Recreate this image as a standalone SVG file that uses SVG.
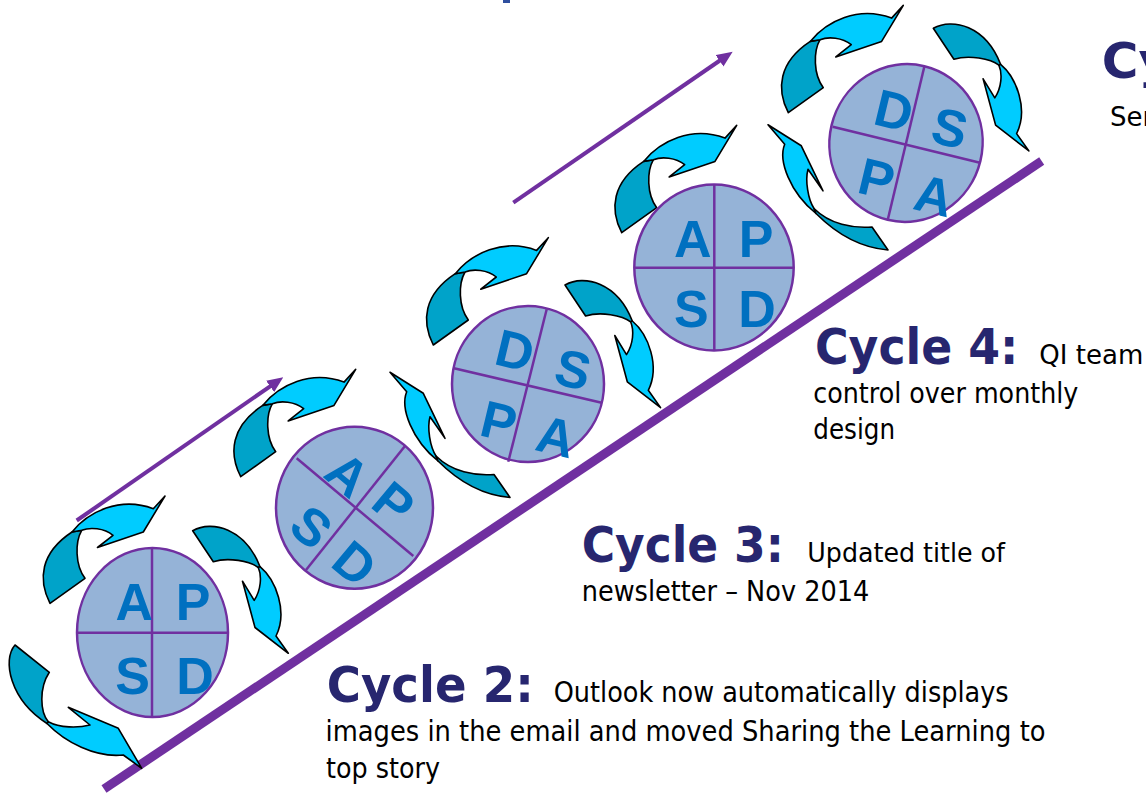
<svg xmlns="http://www.w3.org/2000/svg" width="1146" height="796" viewBox="0 0 1146 796">
<style>
.bg{fill:#ffffff}
.rail{stroke:#7030A0;stroke-width:9;stroke-linecap:butt}
.trend{stroke:#7030A0;stroke-width:4;fill:none}
.ca-l{fill:#00CCFF;stroke:#000;stroke-width:1.6;stroke-linejoin:round}
.ca-d{fill:#00A3C9;stroke:#000;stroke-width:1.6;stroke-linejoin:round}
.disc{fill:#95B3D7;stroke:#7030A0;stroke-width:2.5}
.div{stroke:#7030A0;stroke-width:2.5}
.lt{fill:#0070C0;font-family:"Liberation Sans",Arial,sans-serif;font-weight:bold;font-size:52px;text-anchor:middle}
.ttl{fill:#27266F;font-family:"DejaVu Sans","Liberation Sans",sans-serif;font-weight:bold;font-size:50px}
.txt{fill:#000;font-family:"DejaVu Sans","Liberation Sans",sans-serif}
</style>
<defs>
<marker id="head" markerUnits="userSpaceOnUse" markerWidth="16" markerHeight="14" refX="4" refY="7" orient="auto">
<path d="M0,0 L16,7 L0,14 Z" fill="#7030A0"/>
</marker>
<g id="arcUL">
<path class="ca-d" d="M50,603.3 C38,580 40,553 72,532 L81.7,530.3 C75,542 75,565 85,578.3 Z"/>
<path class="ca-l" d="M72,532 C88,512 120,496 153.3,508.7 L165,496 L143.3,532 L97.5,547.5 L113,535.3 C104,528 90,527 81.7,530.3 Z"/>
</g>
<g id="arcR">
<path class="ca-d" d="M192.7,530.7 C212,520 245,528 260,566.7 L258.3,567.5 C250,561 228,557 213.3,561.7 Z"/>
<path class="ca-l" d="M260,566.7 C276,580 288,612 276,636 L288.3,653.3 L255,627.5 L242.5,581.2 L254.2,600.3 C261,590 262,576 258.3,567.5 Z"/>
</g>
<g id="arcUp">
<path class="ca-l" d="M390,372.3 L406.7,391.7 C400,408 412,440 438,461 L436,456 C430,447 427,428 430,416.7 L445,438.3 L423.3,393.3 Z"/>
<path class="ca-d" d="M438,461 C455,478 480,495 510,497.5 L494,474.5 C475,476 452,472 436,456 Z"/>
</g>
</defs>
<rect class="bg" x="0" y="0" width="1146" height="796"/>
<rect x="503" y="0" width="7" height="3" fill="#2F4F9F"/>

<g id="connectors">
<line class="rail" x1="104" y1="789" x2="1041.7" y2="161"/>
<line class="trend" x1="76.7" y1="520.5" x2="273.4" y2="384.1" marker-end="url(#head)"/>
<line class="trend" x1="513.3" y1="202.7" x2="722.8" y2="58.5" marker-end="url(#head)"/>
<use href="#arcUL"/>
<use href="#arcR"/>
<g id="arcLL">
<path class="ca-d" d="M15,645 C2,660 10,700 47,723.5 L48.3,721.7 C40,712 39,688 49.3,672.3 Z"/>
<path class="ca-l" d="M47,723.5 C65,742 95,758 123.3,755 L141.7,768.3 L118.3,728.3 L68.3,707.3 L90,725 C78,728 60,728 48.3,721.7 Z"/>
</g>
<use href="#arcUL" transform="translate(190.7,-126.6)"/>
<use href="#arcUp"/>
<use href="#arcUL" transform="translate(383.3,-258.3)"/>
<use href="#arcR" transform="translate(372.3,-245.7)"/>
<use href="#arcUL" transform="translate(571.7,-370.6)"/>
<use href="#arcUp" transform="translate(378,-247.5)"/>
<use href="#arcUL" transform="translate(738.3,-490.6)"/>
<use href="#arcR" transform="translate(740.6,-502.4)"/>
</g>

<g id="wheel1">
<ellipse class="disc" cx="152.5" cy="632.5" rx="75.5" ry="84.5"/>
<line class="div" x1="77" y1="632.7" x2="228" y2="632.7"/>
<line class="div" x1="152" y1="548" x2="152" y2="717"/>
<text class="lt" x="134.2" y="620">A</text>
<text class="lt" x="193" y="620">P</text>
<text class="lt" x="132.5" y="694">S</text>
<text class="lt" x="195" y="694">D</text>
</g>

<g id="wheel2">
<ellipse class="disc" cx="354.5" cy="507.7" rx="78.5" ry="81"/>
<line class="div" x1="296.7" y1="458.3" x2="413.3" y2="556"/>
<line class="div" x1="405" y1="446" x2="306" y2="570"/>
<text class="lt" transform="translate(348,474) rotate(40)" y="18.6">A</text>
<text class="lt" transform="translate(394,503) rotate(40)" y="18.6">P</text>
<text class="lt" transform="translate(355,563) rotate(40)" y="18.6">D</text>
<text class="lt" transform="translate(311.7,526.7) rotate(40)" y="18.6">S</text>
</g>

<g id="wheel3">
<ellipse class="disc" cx="528" cy="384" rx="76" ry="78"/>
<line class="div" x1="546.7" y1="309.3" x2="508.3" y2="461.7"/>
<line class="div" x1="454" y1="368.3" x2="601.7" y2="402.7"/>
<text class="lt" transform="translate(515,350) rotate(13.5)" y="18.6">D</text>
<text class="lt" transform="translate(573.3,369) rotate(13.5)" y="18.6">S</text>
<text class="lt" transform="translate(499,421) rotate(13.5)" y="18.6">P</text>
<text class="lt" transform="translate(556,436) rotate(13.5)" y="18.6">A</text>
</g>

<g id="wheel4">
<ellipse class="disc" cx="714" cy="267.5" rx="79.7" ry="83"/>
<line class="div" x1="634.3" y1="267.7" x2="793.7" y2="267.7"/>
<line class="div" x1="714.3" y1="184.5" x2="714.3" y2="350.5"/>
<text class="lt" x="692.8" y="257.3">A</text>
<text class="lt" x="756" y="257.3">P</text>
<text class="lt" x="691.3" y="327">S</text>
<text class="lt" x="757" y="327">D</text>
</g>

<g id="wheel5">
<ellipse class="disc" cx="906" cy="143" rx="76.5" ry="79" transform="rotate(13.5 906 143)"/>
<line class="div" x1="924.3" y1="66.7" x2="887.7" y2="220"/>
<line class="div" x1="832.7" y1="126.7" x2="980" y2="162.7"/>
<text class="lt" transform="translate(894,110) rotate(13.5)" y="18.6">D</text>
<text class="lt" transform="translate(950,127.5) rotate(13.5)" y="18.6">S</text>
<text class="lt" transform="translate(876.7,178.3) rotate(13.5)" y="18.6">P</text>
<text class="lt" transform="translate(934,195) rotate(13.5)" y="18.6">A</text>
</g>

<g id="cycle2">
<text class="ttl" x="326.8" y="702" textLength="207" lengthAdjust="spacingAndGlyphs">Cycle 2:</text>
<text class="txt" x="553.7" y="702" font-size="28" textLength="455" lengthAdjust="spacingAndGlyphs">Outlook now automatically displays</text>
<text class="txt" x="325.5" y="741" font-size="28" textLength="720" lengthAdjust="spacingAndGlyphs">images in the email and moved Sharing the Learning to</text>
<text class="txt" x="326" y="778" font-size="28" textLength="114" lengthAdjust="spacingAndGlyphs">top story</text>
</g>

<g id="cycle3">
<text class="ttl" x="581.7" y="561.7" textLength="202.3" lengthAdjust="spacingAndGlyphs">Cycle 3:</text>
<text class="txt" x="807.3" y="561.7" font-size="26" textLength="197.7" lengthAdjust="spacingAndGlyphs">Updated title of</text>
<text class="txt" x="581.7" y="600.5" font-size="29" textLength="287.6" lengthAdjust="spacingAndGlyphs">newsletter – Nov 2014</text>
</g>

<g id="cycle4">
<text class="ttl" x="815" y="364" textLength="203.3" lengthAdjust="spacingAndGlyphs">Cycle 4:</text>
<text class="txt" x="1039.3" y="364" font-size="26" textLength="104" lengthAdjust="spacingAndGlyphs">QI team</text>
<text class="txt" x="813.3" y="403" font-size="29" textLength="265" lengthAdjust="spacingAndGlyphs">control over monthly</text>
<text class="txt" x="813.3" y="439" font-size="29" textLength="81.7" lengthAdjust="spacingAndGlyphs">design</text>
</g>

<g id="cycle5">
<text class="ttl" x="1101.7" y="78">Cy</text>
<text class="txt" x="1110" y="126" font-size="26">Ser</text>
</g>
</svg>
